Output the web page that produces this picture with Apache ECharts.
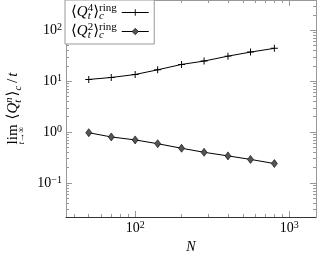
<!DOCTYPE html>
<html><head><meta charset="utf-8">
<script src="https://cdn.jsdelivr.net/npm/echarts@6/dist/echarts.min.js"></script>
<style>html,body{margin:0;padding:0;background:#fff}#c{width:317px;height:253px}</style>
</head><body><div id="c"></div>
<script>
// ---- data ----
const N  = [50, 70, 100, 140, 200, 280, 400, 560, 800];
const Q4 = [10.8, 11.8, 13.5, 16.7, 21.3, 24.8, 31.0, 37.2, 44.1];
const Q2 = [0.97, 0.80, 0.70, 0.59, 0.48, 0.40, 0.34, 0.29, 0.24];
// ---- ticks ----
const X_MAJOR = [100, 1000];
const X_MINOR = [40, 50, 60, 70, 80, 90, 200, 300, 400, 500, 600, 700, 800, 900];
const Y_MAJOR = [0.1, 1, 10, 100];
const Y_MINOR = [0.03, 0.04, 0.05, 0.06, 0.07, 0.08, 0.09, 0.2, 0.3, 0.4, 0.5, 0.6, 0.7, 0.8, 0.9,
                 2, 3, 4, 5, 6, 7, 8, 9, 20, 30, 40, 50, 60, 70, 80, 90, 200, 300];
const X_RANGE = [35.6, 1490];
const Y_RANGE = [0.0214, 393];

const SERIF = "'Liberation Serif','DejaVu Serif',serif";
const PLUS = 'path://M4.3,0H5.7V4.3H10V5.7H5.7V10H4.3V5.7H0V4.3H4.3Z';

function expLabel(v) {
  const e = Math.round(Math.log10(v));
  return '{b|10}{s|' + (e < 0 ? '\u2212' + (-e) : e) + '}';
}
const labelRich = {
  b: {fontFamily: SERIF, fontSize: 14, lineHeight: 16, color: '#000'},
  s: {fontFamily: SERIF, fontSize: 10, lineHeight: 8, verticalAlign: 'top', color: '#000'}
};
function tok(o) { return Object.assign({fontFamily: SERIF, color: '#000', align: 'left'}, o); }
function mathRich(fs, lh, sfs) {
  return {
    n:   tok({fontSize: fs, lineHeight: lh}),
    i:   tok({fontSize: fs, lineHeight: lh, fontStyle: 'italic'}),
    sl:  tok({fontSize: fs, lineHeight: lh, padding: [0, 2, 0, 2]}),
    sp:  tok({fontSize: sfs, lineHeight: 10, verticalAlign: 'top'}),
    spi: tok({fontSize: sfs, lineHeight: 10, verticalAlign: 'top', fontStyle: 'italic', padding: [0, 1, 0, 0]}),
    sb0: tok({fontSize: sfs, lineHeight: 10, verticalAlign: 'bottom', fontStyle: 'italic', width: 0}),
    sb:  tok({fontSize: sfs, lineHeight: 10, verticalAlign: 'bottom', fontStyle: 'italic', padding: [0, 1, 0, 0]}),
    lim: tok({fontSize: 9, lineHeight: 3, height: 3, verticalAlign: 'bottom', fontStyle: 'italic', width: 0}),
    th:  tok({fontSize: fs, lineHeight: lh, width: 5})
  };
}
const LEGEND_TEXT = {
  Q4: '{n|\u27E8}{i|Q}{sb0|t}{sp|4}{n|\u27E9}{sb0|c}{sp|ring}',
  Q2: '{n|\u27E8}{i|Q}{sb0|t}{sp|2}{n|\u27E9}{sb0|c}{sp|ring}'
};
const YNAME = '{lim|t\u2192\u221E}{n|lim}{th|}{n|\u27E8}{i|Q}{sb0|t}{spi|n}{n|\u27E9}{sb|c}{sl|/}{i|t}';

const tickStyle = {color: '#999', width: 1};
function xAx(grid, pos, major) {
  return {
    gridIndex: grid, type: 'log', logBase: 10, min: X_RANGE[0], max: X_RANGE[1], position: pos,
    splitLine: {show: false},
    axisLine: {show: major, lineStyle: {color: pos === 'bottom' ? '#333' : '#999', width: 1}},
    axisTick: {show: true, inside: true, length: major ? 6 : 3, customValues: major ? X_MAJOR : X_MINOR, lineStyle: tickStyle},
    axisLabel: (major && pos === 'bottom') ? {show: true, customValues: X_MAJOR, formatter: expLabel, rich: labelRich, margin: 3} : {show: false}
  };
}
function yAx(grid, pos, major) {
  return {
    gridIndex: grid, type: 'log', logBase: 10, min: Y_RANGE[0], max: Y_RANGE[1], position: pos,
    splitLine: {show: false},
    axisLine: {show: major, lineStyle: {color: '#999', width: 1}},
    axisTick: {show: true, inside: true, length: major ? 6 : 3, customValues: major ? Y_MAJOR : Y_MINOR, lineStyle: tickStyle},
    axisLabel: (major && pos === 'left') ? {show: true, customValues: Y_MAJOR, formatter: expLabel, rich: labelRich, margin: 4} : {show: false}
  };
}
const xs = [xAx(0, 'bottom', true), xAx(0, 'top', true), xAx(1, 'bottom', false), xAx(1, 'top', false)];
const ys = [yAx(0, 'left', true), yAx(0, 'right', true), yAx(1, 'left', false), yAx(1, 'right', false)];
Object.assign(xs[0], {name: 'N', nameLocation: 'middle', nameGap: 23,
  nameTextStyle: {fontFamily: SERIF, fontStyle: 'italic', fontSize: 14, color: '#000'}});
Object.assign(ys[0], {name: YNAME, nameLocation: 'middle', nameGap: 42, nameRotate: 90,
  nameTextStyle: {rich: mathRich(15, 20, 10.5)}});

const chart = echarts.init(document.getElementById('c'), null, {renderer: 'canvas'});
chart.setOption({
  animation: false,
  backgroundColor: '#fff',
  grid: [
    {left: 66, right: 1, top: 0, bottom: 36, outerBoundsMode: 'none', containLabel: false},
    {left: 66, right: 1, top: 0, bottom: 36, outerBoundsMode: 'none', containLabel: false}
  ],
  xAxis: xs,
  yAxis: ys,
  legend: {
    orient: 'vertical', left: 65, top: 0, align: 'right', itemWidth: 27, itemHeight: 8, itemGap: 0,
    padding: [3, 5, 3, 6], borderColor: '#999', borderWidth: 1, backgroundColor: '#fff',
    lineStyle: {width: 1},
    data: [
      {name: 'Q4', itemStyle: {borderWidth: 0}},
      {name: 'Q2', itemStyle: {borderWidth: 0.6, borderColor: '#000'}}
    ],
    formatter: name => LEGEND_TEXT[name], textStyle: {rich: mathRich(15, 19, 11)}
  },
  series: [
    {name: 'Q4', type: 'line', xAxisIndex: 0, yAxisIndex: 0, data: N.map((n, k) => [n, Q4[k]]),
     symbol: PLUS, symbolSize: 7, lineStyle: {color: '#000', width: 1}, itemStyle: {color: '#000'}},
    {name: 'Q2', type: 'line', xAxisIndex: 0, yAxisIndex: 0, data: N.map((n, k) => [n, Q2[k]]),
     symbol: 'diamond', symbolSize: [6, 8], lineStyle: {color: '#000', width: 1},
     itemStyle: {color: '#555', borderColor: '#000', borderWidth: 0.6}}
  ]
});
</script></body></html>
